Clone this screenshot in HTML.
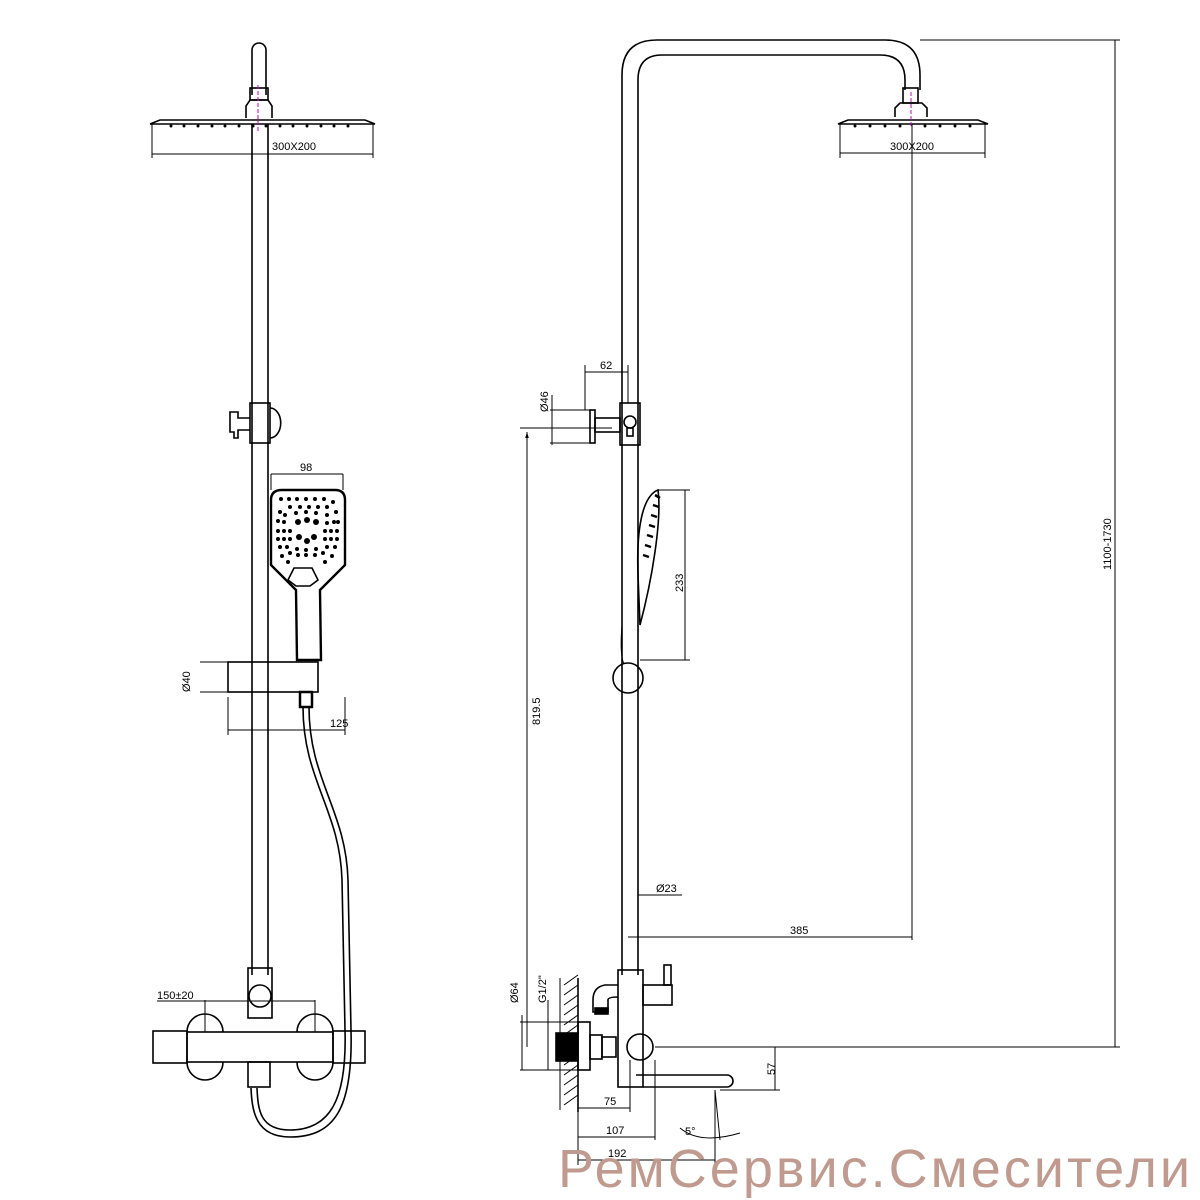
<!DOCTYPE html>
<html><head><meta charset="utf-8"><style>body{margin:0;background:#fff}svg{display:block}text{font-family:"Liberation Sans",sans-serif;fill:#000}</style></head><body>
<svg width="1200" height="1200" viewBox="0 0 1200 1200" xmlns="http://www.w3.org/2000/svg">
<defs><marker id="a" viewBox="0 0 10 10" refX="10" refY="5" markerWidth="8" markerHeight="6" orient="auto-start-reverse"><path d="M0,2L10,5L0,8z" fill="#000"/></marker></defs>
<g fill="none" stroke="#000" stroke-width="1.6">
<path d="M252,95 V50 a7,7 0 0 1 14,0 V95"/>
<rect x="250" y="88" width="18" height="12"/>
<path d="M246,118 V106 l4,-6 h18 l4,6 V118"/>
<path d="M150,124 L160,120 H365 L375,124"/>
<line x1="150" y1="124" x2="375" y2="124"/>
<line x1="152" y1="124" x2="152" y2="158" stroke-width="1"/><line x1="373" y1="124" x2="373" y2="158" stroke-width="1"/>
<line x1="152" y1="154" x2="373" y2="154" stroke-width="1"/>
<line x1="258" y1="85" x2="258" y2="132" stroke="#c0c" stroke-dasharray="4,2" stroke-width="1"/>
<path d="M252,124 V975 M268,124 V975"/>
<rect x="250" y="403" width="20" height="40"/>
<path d="M270,408 a10,14 0 0 1 0,30"/>
<path d="M250,418 h-12 v-6 h-8 v20 h4 v6 h4 v-8 h12"/>
<path d="M282,490 H335 Q345,490 345,500 V565 L320,590 L321,660 H297 L296,590 L271,565 V500 Q271,490 282,490 Z" stroke-width="2.4"/>
<path d="M288,580 l6,-12 h18 l6,12 l-8,6 h-14 z"/>
<line x1="271" y1="474" x2="343" y2="474" stroke-width="1"/><line x1="271" y1="474" x2="271" y2="490" stroke-width="1"/><line x1="343" y1="474" x2="343" y2="490" stroke-width="1"/>
<rect x="228" y="662" width="90" height="30"/>
<path d="M200,662 H228 M200,692 H228" stroke-width="1"/>
<rect x="300" y="692" width="12" height="15" stroke-width="2.5"/>
<path d="M228,697 V735 M345,697 V735 M228,730 H345" stroke-width="1"/>
<path d="M303,707 C303,780 340,810 342,880 L345,1030 C347,1100 330,1130 290,1130 C260,1130 258,1110 257,1088"/>
<path d="M309,707 C309,780 346,810 348,880 L351,1030 C353,1108 335,1137 290,1137 C255,1137 252,1110 251,1088"/>
<rect x="248" y="968" width="24" height="50"/>
<circle cx="260" cy="996" r="11"/>
<path d="M187,1032 a18,18 0 0 1 36,0 M297,1032 a18,18 0 0 1 36,0 M187,1062 a18,18 0 0 0 36,0 M297,1062 a18,18 0 0 0 36,0"/>
<rect x="187" y="1032" width="146" height="30"/>
<rect x="153" y="1031" width="34" height="32"/><rect x="333" y="1031" width="32" height="32"/>
<rect x="248" y="1062" width="22" height="25"/>
<path d="M205,1000 V1032 M315,1000 V1032 M205,1001 H315" stroke-width="1"/>
<line x1="157" y1="1001" x2="205" y2="1001" stroke-width="1"/>
<path d="M622,975 V75 Q622,40 657,40 H885 Q920,40 920,75 V90"/>
<path d="M638,975 V80 Q638,55 662,55 H880 Q905,55 905,80 V90"/>
<rect x="903" y="88" width="15" height="15"/>
<path d="M895,117 V108 l5,-5 h22 l5,5 V117"/>
<path d="M838,124 L848,120 H978 L988,124 Z"/>
<line x1="911" y1="92" x2="911" y2="128" stroke="#c0c" stroke-dasharray="4,2" stroke-width="1"/>
<path d="M840,124 V158 M985,124 V158 M840,153 H985" stroke-width="1"/>
<path d="M912,124 V940 M628,937 H912" stroke-width="1"/>
<path d="M920,40 H1120 M655,1047 H1120 M1115,40 V1047" stroke-width="1"/>
<rect x="620" y="403" width="20" height="42"/>
<circle cx="630" cy="422" r="6"/><rect x="627" y="428" width="6" height="8"/>
<rect x="595" y="418" width="25" height="14"/>
<rect x="590" y="410" width="5" height="33"/>
<path d="M550,410 H590 M550,443 H590 M552,395 V445 M585,365 V410 M628,365 V403 M585,372 H628" stroke-width="1"/>
<path d="M520,428 H612 M527,1047 V432" stroke-width="1" marker-end="url(#a)"/>
<path d="M638,575 C636,520 645,495 658,490 C662,520 652,580 640,625 Z"/>
<path d="M622,625 C620,650 622,660 624,664 M638,625 V664" stroke-width="1"/>
<path d="M655,495 l5,3 M653,505 l6,2 M651,515 l6,2 M649,525 l6,2 M647,535 l6,2 M645,545 l6,2 M643,555 l6,2" stroke-width="2.5"/>
<path d="M658,490 H690 M640,660 H690 M685,490 V660" stroke-width="1"/>
<circle cx="628" cy="678" r="15"/>
<path d="M638,895 H682" stroke-width="1"/>
<path d="M560,978 V1110 M564,985 l14,-10 M564,995 l14,-10 M564,1005 l14,-10 M564,1015 l14,-10 M564,1025 l14,-10 M564,1035 l14,-10 M564,1045 l14,-10 M564,1055 l14,-10 M564,1065 l14,-10 M564,1075 l14,-10 M564,1085 l14,-10 M564,1095 l14,-10 M564,1105 l14,-10" stroke-width="1"/>
<line x1="578" y1="978" x2="578" y2="1112"/>
<rect x="578" y="1022" width="12" height="48"/>
<rect x="556" y="1033" width="22" height="28" fill="#000"/>
<rect x="590" y="1035" width="12" height="24"/><rect x="602" y="1037" width="14" height="20"/>
<rect x="618" y="970" width="25" height="117"/>
<circle cx="640" cy="1047" r="13"/>
<rect x="643" y="985" width="29" height="20"/><rect x="664" y="965" width="7" height="20"/>
<path d="M618,985 H605 Q593,987 593,1000 V1012 H608 V1000 Q608,997 618,997" />
<rect x="595" y="1008" width="13" height="6" fill="#000"/>
<path d="M636,1075 H727 a5,5 0 0 1 0,12 H643"/>
<path d="M520,1022 H578 M520,1070 H578 M522,1015 V1070 M548,1000 V1070" stroke-width="1"/>
<path d="M720,1090 H780 M775,1047 V1090 M715,1090 L720,1140" stroke-width="1"/>
<path d="M578,1075 V1165 M630,1060 V1112 M655,1060 V1140 M715,1090 V1165" stroke-width="1"/>
<path d="M578,1108 H630 M578,1137 H655 M578,1160 H715" stroke-width="1"/>
<path d="M680,1128 Q700,1145 740,1133" stroke-width="1"/>
</g>
<g fill="#000">
<circle cx="281" cy="499" r="2"/><circle cx="289" cy="499" r="2"/><circle cx="297" cy="499" r="2"/><circle cx="306" cy="499" r="2"/><circle cx="315" cy="499" r="2"/><circle cx="324" cy="499" r="2"/><circle cx="333" cy="502" r="2"/>
<circle cx="280" cy="512" r="2"/><circle cx="290" cy="507" r="2"/><circle cx="300" cy="507" r="2"/><circle cx="309" cy="507" r="2"/><circle cx="318" cy="507" r="2"/><circle cx="327" cy="507" r="2"/><circle cx="336" cy="512" r="2"/>
<circle cx="285" cy="515" r="2"/><circle cx="296" cy="513" r="2"/><circle cx="306" cy="512" r="2"/><circle cx="316" cy="513" r="2"/><circle cx="327" cy="515" r="2"/><circle cx="334" cy="522" r="2"/>
<circle cx="278" cy="521" r="2"/><circle cx="284" cy="522" r="2"/><circle cx="298" cy="522" r="3"/><circle cx="307" cy="520" r="3"/><circle cx="316" cy="522" r="3"/><circle cx="327" cy="523" r="2"/><circle cx="338" cy="522" r="2"/>
<circle cx="278" cy="531" r="2"/><circle cx="284" cy="531" r="2"/><circle cx="290" cy="531" r="2"/><circle cx="325" cy="531" r="2"/><circle cx="331" cy="531" r="2"/><circle cx="337" cy="531" r="2"/>
<circle cx="278" cy="539" r="2"/><circle cx="284" cy="539" r="2"/><circle cx="290" cy="539" r="2"/><circle cx="299" cy="537" r="3"/><circle cx="307" cy="541" r="3"/><circle cx="314" cy="537" r="3"/><circle cx="325" cy="539" r="2"/><circle cx="331" cy="539" r="2"/><circle cx="337" cy="539" r="2"/>
<circle cx="280" cy="547" r="2"/><circle cx="287" cy="547" r="2"/><circle cx="297" cy="549" r="2"/><circle cx="306" cy="550" r="2"/><circle cx="316" cy="549" r="2"/><circle cx="327" cy="547" r="2"/><circle cx="335" cy="547" r="2"/>
<circle cx="282" cy="556" r="2"/><circle cx="290" cy="553" r="2"/><circle cx="298" cy="555" r="2"/><circle cx="306" cy="555" r="2"/><circle cx="315" cy="555" r="2"/><circle cx="323" cy="553" r="2"/><circle cx="332" cy="556" r="2"/>
<circle cx="288" cy="562" r="2"/><circle cx="325" cy="562" r="2"/>
</g>
<g fill="#000">
<circle cx="171" cy="126" r="1.5"/><circle cx="184" cy="126" r="1.5"/><circle cx="198" cy="126" r="1.5"/><circle cx="212" cy="126" r="1.5"/><circle cx="225" cy="126" r="1.5"/><circle cx="239" cy="126" r="1.5"/><circle cx="253" cy="126" r="1.5"/><circle cx="266" cy="126" r="1.5"/><circle cx="280" cy="126" r="1.5"/><circle cx="293" cy="126" r="1.5"/><circle cx="307" cy="126" r="1.5"/><circle cx="321" cy="126" r="1.5"/><circle cx="334" cy="126" r="1.5"/><circle cx="348" cy="126" r="1.5"/>
<circle cx="855" cy="126" r="1.5"/><circle cx="870" cy="126" r="1.5"/><circle cx="885" cy="126" r="1.5"/><circle cx="900" cy="126" r="1.5"/><circle cx="925" cy="126" r="1.5"/><circle cx="940" cy="126" r="1.5"/><circle cx="955" cy="126" r="1.5"/><circle cx="970" cy="126" r="1.5"/>
</g>
<g font-size="11">
<text x="272" y="150">300X200</text>
<text x="300" y="471">98</text>
<text x="330" y="727">125</text>
<text x="157" y="999">150±20</text>
<text x="890" y="150">300X200</text>
<text x="600" y="369">62</text>
<text x="790" y="934">385</text>
<text x="656" y="892">Ø23</text>
<text x="604" y="1105">75</text>
<text x="606" y="1134">107</text>
<text x="608" y="1157">192</text>
<text x="685" y="1135">5°</text>
<text transform="translate(548,412) rotate(-90)">Ø46</text>
<text transform="translate(190,692) rotate(-90)">Ø40</text>
<text transform="translate(540,725) rotate(-90)">819.5</text>
<text transform="translate(683,592) rotate(-90)">233</text>
<text transform="translate(1111,570) rotate(-90)">1100-1730</text>
<text transform="translate(518,1003) rotate(-90)">Ø64</text>
<text transform="translate(546,1003) rotate(-90)">G1/2"</text>
<text transform="translate(775,1075) rotate(-90)">57</text>
</g>
<text x="558" y="1187" font-size="54" textLength="632" style="fill:#c09a8e">РемСервис.Смесители</text>
</svg>
</body></html>
